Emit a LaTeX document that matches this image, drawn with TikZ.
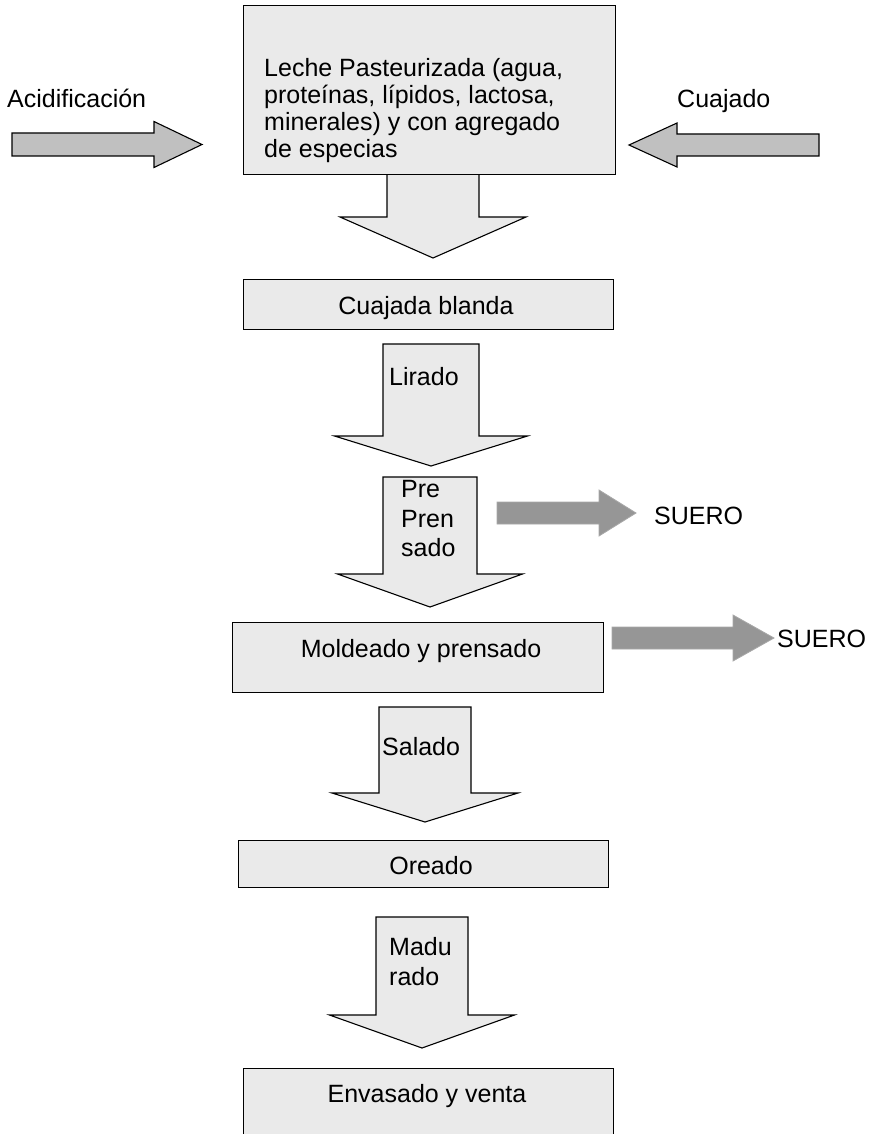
\documentclass[tikz,border=0pt]{standalone}
\usepackage{fontspec}
\setmainfont{Liberation Sans}
\definecolor{boxfill}{HTML}{EAEAEA}
\definecolor{sidefill}{HTML}{C0C0C0}
\definecolor{suerofill}{HTML}{969696}
\definecolor{sueroline}{HTML}{A8A8A8}
\tikzset{
  procbox/.style={draw=black, line width=1.1pt, fill=boxfill},
  arrowbox/.style={draw=black, line width=1.1pt, fill=boxfill, line join=miter},
  sidearrow/.style={draw=black, line width=1.1pt, fill=sidefill, line join=miter},
  sueroarrow/.style={draw=sueroline, line width=0.8pt, fill=suerofill, line join=miter},
  lbl/.style={inner sep=0pt, font=\fontsize{25}{27}\selectfont},
}
% cx, ytop, ybase, ytip, halfshaft, halfhead
\newcommand{\blkdown}[6]{%
  \draw[arrowbox] ({#1-#5},#2) -- ({#1+#5},#2) -- ({#1+#5},#3) -- ({#1+#6},#3)
    -- (#1,#4) -- ({#1-#6},#3) -- ({#1-#5},#3) -- cycle;}
% xstart, xbase, xtip, ycenter, halfshaft, halfhead, style
\newcommand{\blkside}[7]{%
  \draw[#7] (#1,{#4-#5}) -- (#2,{#4-#5}) -- (#2,{#4-#6}) -- (#3,#4)
    -- (#2,{#4+#6}) -- (#2,{#4+#5}) -- (#1,{#4+#5}) -- cycle;}
\begin{document}
\begin{tikzpicture}[x=1pt,y=-1pt]
\useasboundingbox (0,0) rectangle (886,1134);
\fill[white] (0,0) rectangle (886,1134);

% down block arrows (drawn first so boxes overlap cleanly)
\blkdown{433}{174}{217}{258}{46}{93}
\blkdown{431}{344}{436}{466}{48}{96.5}
\blkdown{430}{477}{574}{607}{47}{92.5}
\blkdown{425}{707}{793}{822}{46}{93}
\blkdown{422}{917}{1015}{1048}{46}{92.5}

% boxes
\node[procbox, anchor=north west, minimum width=372pt, minimum height=169pt, inner sep=0pt] (leche) at (243,5) {};
\node[lbl, anchor=north west, align=left] (lechetxt) at (264,58.5)
  {Leche Pasteurizada (agua,\\proteínas, lípidos, lactosa,\\minerales) y con agregado\\de especias};

\node[procbox, anchor=north west, minimum width=370pt, minimum height=50pt, inner sep=0pt] (cuajada) at (243,279) {};
\node[lbl, anchor=base] (cuajadatxt) at (426,314) {Cuajada blanda};

\node[procbox, anchor=north west, minimum width=371pt, minimum height=70pt, inner sep=0pt] (molde) at (232,622) {};
\node[lbl, anchor=base] (moldetxt) at (421,657) {Moldeado y prensado};

\node[procbox, anchor=north west, minimum width=370pt, minimum height=47pt, inner sep=0pt] (oreado) at (238,840) {};
\node[lbl, anchor=base] (oreadotxt) at (431,874) {Oreado};

\node[procbox, anchor=north west, minimum width=370pt, minimum height=80pt, inner sep=0pt] (envasado) at (243,1068) {};
\node[lbl, anchor=base] (envasadotxt) at (427,1102) {Envasado y venta};

% labels in down arrows
\node[lbl, anchor=base west] (lirado) at (389,385) {Lirado};
\node[lbl, anchor=base west] (pre1) at (401,497) {Pre};
\node[lbl, anchor=base west] (pre2) at (401,527) {Pren};
\node[lbl, anchor=base west] (pre3) at (401,556) {sado};
\node[lbl, anchor=base west] (salado) at (382,755) {Salado};
\node[lbl, anchor=base west] (madu1) at (389,955) {Madu};
\node[lbl, anchor=base west] (madu2) at (389,985) {rado};

% side inputs
\blkside{12}{154}{202}{144.5}{11.5}{23}{sidearrow}
\node[lbl, anchor=base west] (acid) at (7,108) {Acidificación};
\blkside{819}{677}{629}{145}{11}{22}{sidearrow}
\node[lbl, anchor=base west] (cuaj) at (677,108) {Cuajado};

% whey outputs
\blkside{497}{599}{636}{513}{11}{23}{sueroarrow}
\node[lbl, anchor=base west] (suero1) at (654,524) {SUERO};
\blkside{612}{733}{774}{638}{11}{23}{sueroarrow}
\node[lbl, anchor=base west] (suero2) at (777,647) {SUERO};
\end{tikzpicture}
\end{document}
